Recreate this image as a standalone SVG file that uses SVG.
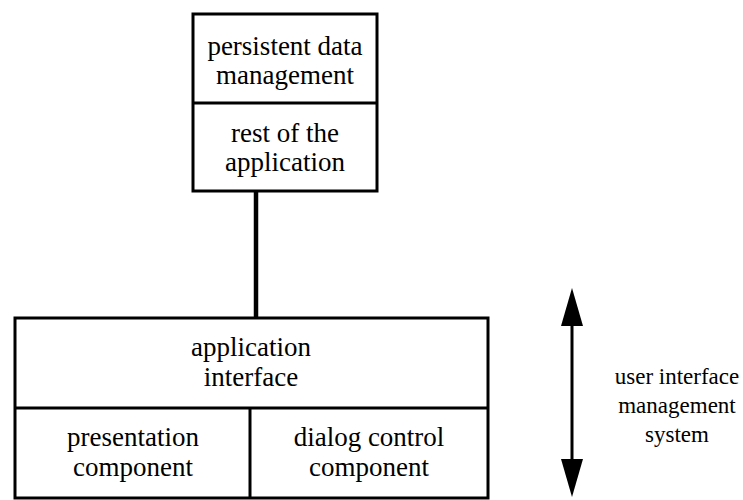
<svg xmlns="http://www.w3.org/2000/svg" width="743" height="500" viewBox="0 0 743 500">
<style>
.box{fill:#fff;stroke:#000;stroke-width:3}
.div{stroke:#000;stroke-width:3;fill:none}
text{font-family:"Liberation Serif","DejaVu Serif",serif;font-size:27px;fill:#000;text-anchor:middle}
.side{font-size:23px}
</style>
<rect width="743" height="500" fill="#fff"/>
<g id="connectors">
<line x1="256" y1="191" x2="256" y2="318" stroke="#000" stroke-width="4.5"/>
<line x1="572" y1="318" x2="572" y2="462" stroke="#000" stroke-width="3"/>
<polygon points="572,288 561,326 583,326" fill="#000"/>
<polygon points="572,497 561,459 583,459" fill="#000"/>
</g>
<g id="top-box">
<rect class="box" x="193" y="14" width="184" height="177"/>
<line class="div" x1="193" y1="103" x2="377" y2="103"/>
<text x="285" y="55">persistent data</text>
<text x="285" y="84">management</text>
<text x="285" y="142">rest of the</text>
<text x="285" y="171">application</text>
</g>
<g id="bottom-box">
<rect class="box" x="15" y="318" width="473" height="180"/>
<line class="div" x1="15" y1="408" x2="488" y2="408"/>
<line class="div" x1="250" y1="408" x2="250" y2="498"/>
<text x="251" y="356">application</text>
<text x="251" y="386">interface</text>
<text x="133" y="446">presentation</text>
<text x="133" y="476">component</text>
<text x="369" y="446">dialog control</text>
<text x="369" y="476">component</text>
</g>
<g id="uims-label">
<text class="side" x="677" y="384">user interface</text>
<text class="side" x="677" y="413">management</text>
<text class="side" x="677" y="442">system</text>
</g>
</svg>
